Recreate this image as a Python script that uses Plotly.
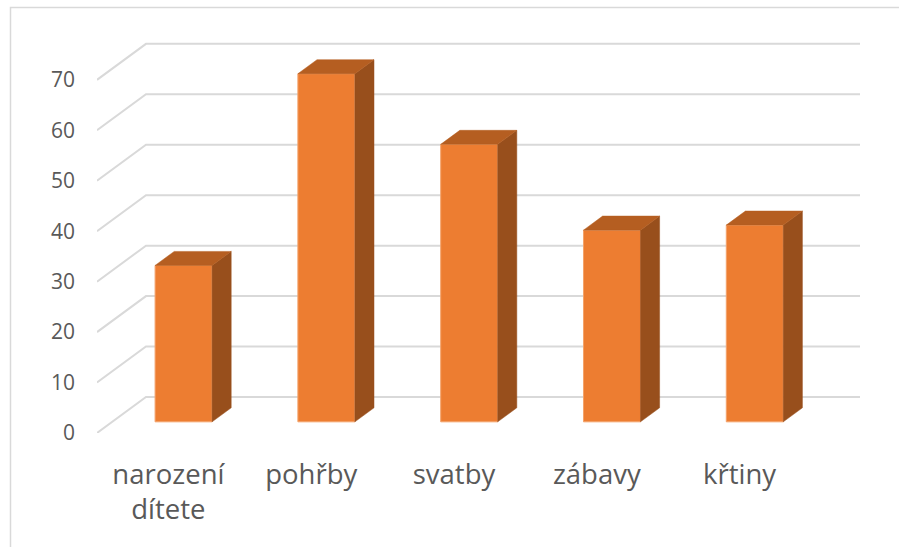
import plotly.graph_objects as go

categories = ["narození<br>dítete", "pohřby", "svatby", "zábavy", "křtiny"]
values = [31, 69, 55, 38, 39]
y_ticks = [0, 10, 20, 30, 40, 50, 60, 70]

# figure geometry (pixels)
W, H = 902, 547
L, R, T, B = 97, 42, 41, 114
X_UNIT = (W - L - R) / 5.343      # pixels per category
Y_UNIT = 5.045                    # pixels per value unit
DX = 49 / X_UNIT                  # full depth of the floor, in category units
DY = 36 / Y_UNIT                  # full depth of the floor, in value units
BAR_FRONT, BAR_BACK = 0.31, 0.70  # bar position inside the depth
BAR_W = 57 / X_UNIT


def proj(x, v, d):
    return x + d * DX, v + d * DY


positions = list(range(len(values)))
fig = go.Figure()

# front faces
fig.add_trace(go.Bar(
    x=[proj(p, 0, BAR_FRONT)[0] for p in positions],
    y=values,
    base=proj(0, 0, BAR_FRONT)[1],
    width=BAR_W,
    marker=dict(color="#ED7D31", line=dict(color="#F4A36B", width=1)),
    showlegend=False,
))


def faces(kind):
    xs, ys = [], []
    for p, v in zip(positions, values):
        l, r = p - BAR_W / 2, p + BAR_W / 2
        if kind == "side":
            pts = [(r, 0, BAR_FRONT), (r, 0, BAR_BACK), (r, v, BAR_BACK), (r, v, BAR_FRONT)]
        else:
            pts = [(l, v, BAR_FRONT), (l, v, BAR_BACK), (r, v, BAR_BACK), (r, v, BAR_FRONT)]
        pts = pts + pts[:1]
        for a, b, d in pts:
            px, py = proj(a, b, d)
            xs.append(px)
            ys.append(py)
        xs.append(None)
        ys.append(None)
    return xs, ys


for kind, col in (("side", "#984F1C"), ("top", "#B55E21")):
    xs, ys = faces(kind)
    fig.add_trace(go.Scatter(x=xs, y=ys, mode="lines", fill="toself", fillcolor=col,
                             line=dict(color=col, width=0.5), showlegend=False, hoverinfo="skip"))

# gridlines: diagonal on the side wall, horizontal on the back wall
x_left = -0.5
x_right = 4.5
shapes = []
for t in y_ticks:
    x0, y0 = proj(x_left, t, 0)
    x1, y1 = proj(x_left, t, 1)
    x2, y2 = proj(x_right, t, 1)
    shapes.append(dict(type="path", xref="x", yref="y", layer="below",
                       path=f"M {x0} {y0} L {x1} {y1} L {x2} {y2}",
                       line=dict(color="#D9D9D9", width=2)))

# chart frame
plot_w, plot_h = W - L - R, H - T - B
fx0, fx1 = (10.5 - L) / plot_w, (899 - L) / plot_w
fy0, fy1 = (H - B - 547) / plot_h, (H - B - 7.5) / plot_h
shapes.append(dict(type="path", xref="paper", yref="paper", layer="below",
                   path=f"M {fx0} {fy0} L {fx0} {fy1} L {fx1} {fy1}",
                   line=dict(color="#D9D9D9", width=1.5)))

fig.update_layout(
    width=W, height=H,
    margin=dict(l=L, r=R, t=T, b=B, pad=0),
    paper_bgcolor="white", plot_bgcolor="white",
    font=dict(family="Open Sans", color="#595959"),
    shapes=shapes,
    showlegend=False,
    xaxis=dict(range=[x_left, x_right + DX], tickmode="array", tickvals=positions,
               ticktext=categories, showgrid=False, zeroline=False, showline=False,
               ticks="", tickangle=0, tickfont=dict(size=27.5, color="#595959"),
               ticklabelstandoff=22),
    yaxis=dict(range=[0, plot_h / Y_UNIT], tickmode="array", tickvals=y_ticks,
               showgrid=False, zeroline=False, showline=False, ticks="",
               tickfont=dict(size=21, color="#595959"), ticklabelstandoff=21),
)

fig.write_html("out.html", config={"displayModeBar": False},
               post_script="document.body.style.margin='0';")
